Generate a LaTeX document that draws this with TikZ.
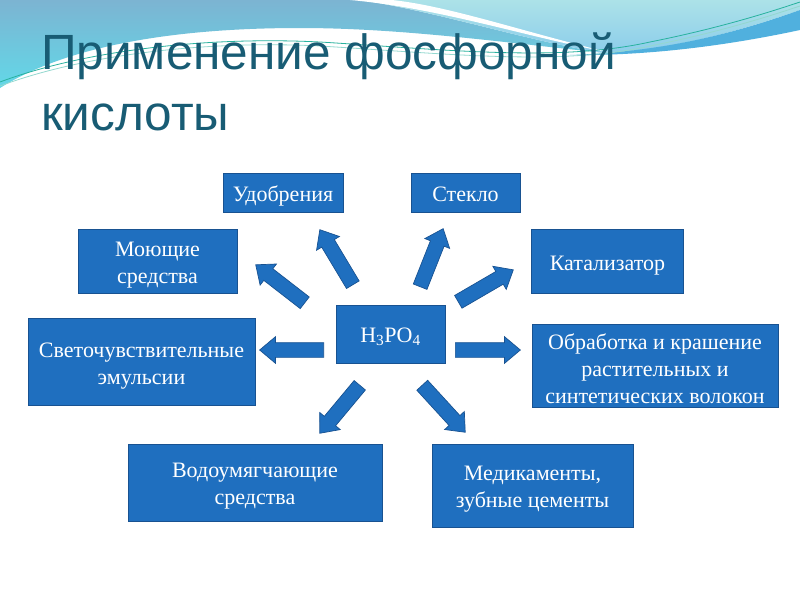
\documentclass[tikz,border=0pt]{standalone}
\usepackage{fontspec}
\setmainfont{Liberation Serif}
\newfontfamily\titlefont{Liberation Sans}
\usetikzlibrary{shapes.arrows,calc}

\definecolor{boxblue}{RGB}{31,111,191}
\definecolor{boxedge}{RGB}{24,82,145}
\definecolor{titleteal}{RGB}{24,92,116}
\definecolor{skyblue}{RGB}{124,180,210}
\definecolor{skycyan}{RGB}{98,216,232}
\definecolor{palecyan}{RGB}{172,226,232}
\definecolor{paleblue}{RGB}{140,205,235}
\definecolor{bandblue}{RGB}{80,176,222}
\definecolor{lineteal}{RGB}{40,178,158}

\tikzset{
  appbox/.style={draw=boxedge, fill=boxblue, text=white, align=center, inner sep=0pt,
    line width=0.8pt, font=\fontsize{22}{26.6}\selectfont, text height=23pt, text depth=6pt},
  lines/.style={text height=#1},
  bigarrow/.style={single arrow, draw=boxedge, fill=boxblue, inner xsep=0pt, inner ysep=7pt,
    minimum width=0pt, single arrow head extend=6pt, single arrow tip angle=80, line width=0.7pt}
}

\begin{document}
\begin{tikzpicture}[x=1pt, y=-1pt]
  \useasboundingbox (0,0) rectangle (800,600);
  \fill[white] (0,0) rectangle (800,600);
  % wave at the top
  \shade[top color=skyblue, bottom color=skycyan] (0,0) -- (360,0) .. controls (440,12) and (530,42) .. (605,53)
    .. controls (500,42) and (400,28) .. (300,28) .. controls (160,28) and (60,50) .. (0,88) -- cycle;
  \shade[top color=palecyan, bottom color=paleblue] (360,0) -- (800,0) -- (800,10) .. controls (720,38) and (660,50) .. (605,53)
    .. controls (530,42) and (440,12) .. (360,0) -- cycle;
  \fill[bandblue] (570,55) .. controls (660,52) and (730,35) .. (800,10) -- (800,30)
    .. controls (730,45) and (650,56) .. (570,55) -- cycle;
  \fill[white] (350,0) .. controls (440,8) and (530,38) .. (612,53) .. controls (530,34) and (450,6) .. (392,0) -- cycle;
  \draw[lineteal, line width=0.8pt] (0,82) .. controls (80,52) and (200,36) .. (320,42)
    .. controls (450,50) and (560,62) .. (650,42) .. controls (720,28) and (770,12) .. (800,2);
  \draw[lineteal!50, line width=0.8pt] (0,86) .. controls (80,56) and (200,40) .. (320,46)
    .. controls (450,54) and (560,66) .. (650,46) .. controls (720,32) and (770,16) .. (800,6);

  \node[anchor=base west, inner sep=0pt, text=titleteal, font=\titlefont\fontsize{49.5}{50}\selectfont] (title) at (41,69) {Применение фосфорной};
  \node[anchor=base west, inner sep=0pt, text=titleteal, font=\titlefont\fontsize{49.5}{50}\selectfont] (title2) at (41,130) {кислоты};

  \node[appbox, minimum width=120, minimum height=39] (udobr) at (283,192.5) {Удобрения};
  \node[appbox, minimum width=109, minimum height=39] (steklo) at (465.5,192.5) {Стекло};
  \node[appbox, lines=49.6pt, minimum width=159, minimum height=64] (moyu) at (157.5,261.5) {Моющие\\средства};
  \node[appbox, minimum width=152, minimum height=64] (katal) at (607.5,261.5) {Катализатор};
  \node[appbox, lines=52pt, minimum width=227, minimum height=87] (sveto) at (141.5,361.5) {Светочувствительные\\эмульсии};
  \node[appbox, minimum width=109, minimum height=58] (acid) at (390.5,334) {H\textsubscript{3}PO\textsubscript{4}};
  \node[appbox, lines=79pt, text depth=4pt, minimum width=246, minimum height=83] (obrab) at (655,365.5) {Обработка и крашение\\растительных и\\синтетических волокон};
  \node[appbox, lines=49.6pt, minimum width=254, minimum height=77] (vodo) at (255,482.5) {Водоумягчающие\\средства};
  \node[appbox, lines=49.6pt, minimum width=201, minimum height=83] (medik) at (532.5,485.5) {Медикаменты,\\зубные цементы};

  \foreach \nm/\sx/\sy/\tx/\ty in {udobr/353/285/320/230, steklo/420/287/443/229, moyu/305/303/256/265,
      katal/458/302/513/270, sveto/324/350/260/350, obrab/455/350/520/350,
      vodo/360/385/320/433, medik/422/385/465/432}{
    \coordinate (\nm-a) at (\sx,\sy);
    \coordinate (\nm-b) at (\tx,\ty);
    \path let \p1=($(\nm-b)-(\nm-a)$), \n1={atan2(\y1,\x1)}, \n2={veclen(\x1,\y1)} in
      node[bigarrow, rotate=\n1, minimum height=\n2, anchor=tail] (\nm-arr) at (\nm-a) {};
  }
\end{tikzpicture}
\end{document}
